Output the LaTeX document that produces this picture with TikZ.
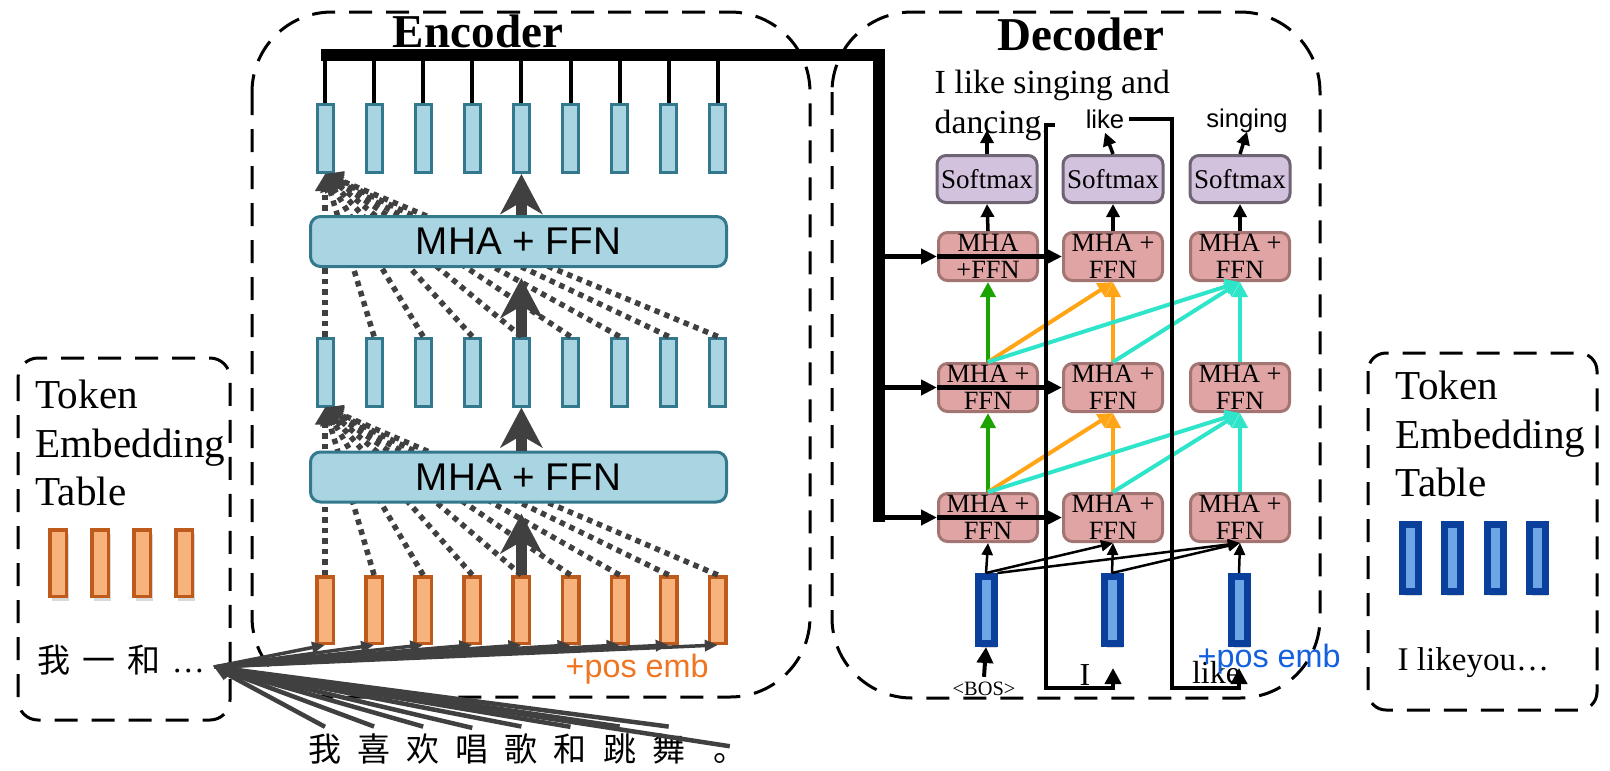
\documentclass[tikz,border=0pt]{standalone}
\usepackage{fontspec}
\setmainfont{Liberation Serif}
\setsansfont{Liberation Sans}
\newfontfamily\cjk{Noto Sans CJK SC}
\usetikzlibrary{arrows.meta,shadows}

\definecolor{encfill}{HTML}{A9D5E2}
\definecolor{encline}{HTML}{33788C}
\definecolor{orfill}{HTML}{F8B37D}
\definecolor{orline}{HTML}{BF5A1D}
\definecolor{pkfill}{HTML}{E0A4A4}
\definecolor{pkline}{HTML}{A27572}
\definecolor{smfill}{HTML}{D3C2DD}
\definecolor{smline}{HTML}{6E6473}
\definecolor{nvline}{HTML}{0A3F9C}
\definecolor{nvfill}{HTML}{6DA5E6}
\definecolor{dgray}{HTML}{404040}
\definecolor{grn}{HTML}{1BA400}
\definecolor{org}{HTML}{FFA516}
\definecolor{cyn}{HTML}{2EE5C9}
\definecolor{posor}{HTML}{EE7522}
\definecolor{posbl}{HTML}{1560DD}

\tikzset{
  dashframe/.style={draw, line width=0.3mm, dash pattern=on 2.3mm off 1.4mm},
  boxtitle/.style={anchor=base, inner sep=0, font=\bfseries\fontsize{13.4}{16}\selectfont},
  encbar/.style={draw=encline, fill=encfill, line width=0.3mm, minimum width=1.6mm, minimum height=6.8mm, inner sep=0},
  orbar/.style={draw=orline, fill=orfill, line width=0.35mm, minimum width=1.65mm, minimum height=6.65mm, inner sep=0},
  nvbar/.style={draw=nvline, fill=nvfill, line width=0.7mm, minimum width=1.6mm, minimum height=6.7mm, inner sep=0},
  tblshadow/.style={drop shadow={shadow xshift=0.25mm, shadow yshift=-0.45mm, opacity=0.3}},
  ffn/.style={draw=encline, fill=encfill, line width=0.3mm, rounded corners=1mm, minimum width=41.6mm, minimum height=5mm, inner sep=0, font=\sffamily\fontsize{11}{13}\selectfont},
  block/.style={draw=pkline, fill=pkfill, line width=0.3mm, rounded corners=0.9mm, minimum width=9.9mm, minimum height=4.8mm, inner sep=0, align=center, font=\fontsize{7.5}{7.7}\selectfont},
  softbox/.style={draw=smline, fill=smfill, line width=0.3mm, rounded corners=0.9mm, minimum width=10mm, minimum height=4.7mm, inner sep=0, font=\fontsize{7.7}{9}\selectfont},
  tbltext/.style={anchor=north west, inner sep=0, align=left, font=\fontsize{11.7}{13.9}\selectfont},
  zi/.style={anchor=base, inner sep=0.6mm, font=\cjk\fontsize{9.4}{11}\selectfont},
  posl/.style={anchor=base west, inner sep=0.4mm, font=\sffamily\fontsize{9.2}{11}\selectfont},
  outs/.style={anchor=base west, inner sep=0.4mm, font=\fontsize{9.6}{11}\selectfont},
  outw/.style={anchor=base, inner sep=0.4mm, text depth=0pt, font=\sffamily\fontsize{7.3}{9}\selectfont},
  lbl/.style={anchor=base, inner sep=0.4mm, font=\fontsize{5.8}{7}\selectfont},
  lbltwo/.style={anchor=base, inner sep=0.4mm, font=\fontsize{9.1}{11}\selectfont},
  stub/.style={line width=0.4mm},
  bus/.style={line width=1.25mm, line join=miter},
  busarrow/.style={line width=0.45mm, -{Triangle[length=1.6mm,width=1.5mm]}},
  arr/.style={line width=0.35mm, -{Triangle[length=1.3mm,width=1.3mm]}},
  fb/.style={line width=0.4mm, line join=miter, -{Triangle[length=1.6mm,width=1.6mm]}},
  inarrow/.style={line width=0.25mm, -{Triangle[length=1.2mm,width=1.1mm]}},
  grnarrow/.style={grn, line width=0.4mm, -{Triangle[length=1.5mm,width=1.5mm]}},
  orarrow/.style={org, line width=0.4mm, -{Triangle[length=1.5mm,width=1.5mm]}},
  cyarrow/.style={cyn, line width=0.4mm, -{Triangle[length=1.5mm,width=1.5mm]}},
  fan/.style={dgray, line width=0.35mm, -{Triangle[length=1.3mm,width=1.1mm]}},
  fanin/.style={dgray, line width=0.45mm, -{Triangle[length=1.5mm,width=1.3mm]}},
  attn/.style={dgray, line width=0.55mm, dash pattern=on 0.55mm off 0.5mm, -{Triangle[length=1.7mm,width=1.9mm]}},
  bigarrow/.style={dgray, line width=1.1mm, -{Stealth[length=4mm,width=4.2mm,inset=1.2mm]}}
}

\begin{document}
\begin{tikzpicture}[x=0.1mm,y=-0.1mm]
\useasboundingbox (0,0) rectangle (1610,770);

% dashed frames
\draw[dashframe, rounded corners=8mm] (252,12) rectangle (810,697);
\draw[dashframe, rounded corners=8mm] (832,12) rectangle (1320,698);
\draw[dashframe, rounded corners=2mm] (18,358) rectangle (230,720);
\draw[dashframe, rounded corners=1.8mm] (1368,353) rectangle (1597,710);
\node[boxtitle] (enct) at (478,47) {Encoder};
\node[boxtitle] (dect) at (1081,50) {Decoder};

% encoder
\foreach \i in {1,...,9} {
  \node[encbar] (t\i) at ({325+49.1*(\i-1)},138.5) {};
  \node[encbar] (m\i) at ({325+49.1*(\i-1)},372) {};
  \node[orbar] (o\i) at ({325+49.1*(\i-1)},610) {};
}
\foreach \i in {1,...,9} {
  \draw[attn] (o\i.north) -- (m1.south);
  \draw[attn] (m\i.north) -- (t1.south);
}
\node[ffn] (ffnU) at (518.5,241.5) {MHA + FFN};
\node[ffn] (ffnL) at (518.5,477) {MHA + FFN};
\draw[bigarrow, shorten >=1mm] (m5.north) -- (m5.north |- ffnU.south);
\draw[bigarrow] (ffnU.north -| t5.south) -- (t5.south);
\draw[bigarrow, shorten >=1mm] (o5.north) -- (o5.north |- ffnL.south);
\draw[bigarrow] (ffnL.north -| m5.south) -- (m5.south);

% encoder output bus
\coordinate (busL) at (321,55);
\coordinate (busC) at (879,55);
\coordinate (busE) at (879,522);
\foreach \i in {1,...,9} \draw[stub] (t\i.north) -- (t\i.north |- busL);
\draw[bus] (busL) -- (busC) -- (busE);

% embedding lookup
\coordinate (tbl) at (214,667);
\foreach \i/\ch/\dx in {1/我/0,2/喜/0,3/欢/0,4/唱/0,5/歌/0,6/和/0,7/跳/0,8/舞/0,9/。/12}
  \node[zi] (cn\i) at ({325+49.1*(\i-1)+\dx},761) {\ch};
\foreach \i in {1,...,9} {
  \draw[fanin] (cn\i.north) -- (tbl);
  \draw[fan] (tbl) -- (o\i.south);
}
\node[posl, text=posor] (pe1) at (561,677) {+pos emb};

% token tables
\node[tbltext] (ltt) at (35,379) {Token\\Embedding\\Table};
\foreach \i in {1,...,4} \node[orbar, tblshadow] (lt\i) at ({58+42*(\i-1)},563) {};
\node[anchor=base west, inner sep=0, font=\fontsize{9.4}{11}\selectfont] (ltok) at (37,672) {{\cjk 我\hspace{1.2mm}一\hspace{1.2mm}和}\hspace{1.1mm}…};
\node[tbltext] (rtt) at (1395,370) {Token\\Embedding\\Table};
\foreach \i in {1,...,4} \node[nvbar, tblshadow] (rt\i) at ({1410.5+42.3*(\i-1)},557.5) {};
\node[anchor=base west, inner sep=0, font=\fontsize{9.4}{11}\selectfont] (rtok) at (1397,670) {I likeyou…};

% decoder
\foreach \c/\x in {1/986,2/1112,3/1239} \node[nvbar, tblshadow] (e\c) at (\x,610) {};
\foreach \r/\y in {1/517.5,2/387.5} \foreach \c/\x in {1/988,2/1113,3/1240}
  \node[block] (b\r\c) at (\x,\y) {MHA +\\FFN};
\node[block] (b31) at (988,256.5) {MHA\\+FFN};
\foreach \c/\x in {2/1113,3/1240} \node[block] (b3\c) at (\x,256.5) {MHA +\\FFN};
\foreach \c/\x in {1/987,2/1113,3/1240} \node[softbox] (sm\c) at (\x,179) {Softmax};

\foreach \r/\s in {1/2,2/3} {
  \draw[grnarrow] (b\r1.north) -- (b\s1.south);
  \draw[orarrow] (b\r1.north) -- (b\s2.south);
  \draw[orarrow] (b\r2.north) -- (b\s2.south);
  \draw[cyarrow] (b\r1.north) -- (b\s3.south);
  \draw[cyarrow] (b\r2.north) -- (b\s3.south);
  \draw[cyarrow] (b\r3.north) -- (b\s3.south);
}
\draw[inarrow] (e1.north) -- (b11.south);
\draw[inarrow] (e1.north) -- (b12.south);
\draw[inarrow] (e1.north east) -- (b13.south);
\draw[inarrow] (e2.north) -- (b12.south);
\draw[inarrow] (e2.north) -- (b13.south);
\draw[inarrow] (e3.north) -- (b13.south);

\foreach \r in {1,2,3} {
  \draw[busarrow] (b\r1.west -| busE) -- (b\r1.west);
  \draw[busarrow] (b\r1.west) -- (b\r2.west);
}

% outputs
\foreach \c in {1,2,3} \draw[arr] (b3\c.north) -- (sm\c.south);
\node[outs] (out1a) at (930,93) {I like singing and};
\node[outs] (out1b) at (930,133) {dancing.};
\node[outw] (out2) at (1105,128) {like};
\node[outw] (out3) at (1247,127) {singing};
\coordinate (tip1) at (987,130);
\draw[arr] (sm1.north) -- (tip1);
\draw[arr] (sm2.north) -- (out2.south);
\draw[arr] (sm3.north) -- (out3.south);

% fed back as next input
\coordinate (fbA) at (1046,688);
\coordinate (fbB) at (1172,688);
\coordinate (in2) at (1113,668);
\coordinate (in3) at (1239,668);
\draw[fb] (out1b.east) -| (fbA) -| (in2);
\draw[fb] (out2.east) -| (fbB) -| (in3);
\node[lbl] (bos) at (984,695) {<BOS>};
\draw[fb] (bos.north) -- (e1.south);
\node[lbltwo] (lbI) at (1085,685) {I};
\node[lbltwo] (lblike) at (1216,683) {like};
\node[posl, text=posbl] (pe2) at (1193,667) {+pos emb};
\end{tikzpicture}
\end{document}
